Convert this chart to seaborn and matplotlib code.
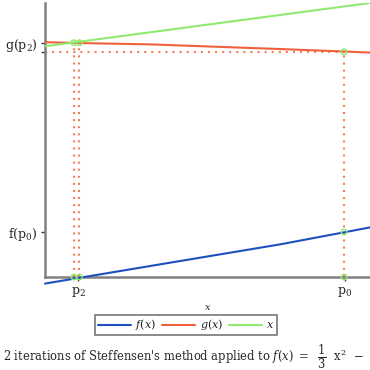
import matplotlib
matplotlib.use("Agg")
import matplotlib.pyplot as plt
import seaborn as sns
import numpy as np

sns.set_style("white")
plt.rcParams['font.family'] = ['DejaVu Serif']
plt.rcParams['mathtext.fontset'] = 'dejavuserif'

# data (arbitrary units)
f_x = [0.0, 3.23, 7.23, 9.2, 10.0]
f_y = [-0.24, 0.40, 1.19, 1.63, 1.81]
g_x = [0.0, 0.95, 3.23, 7.23, 9.2, 10.0]
g_y = [8.57, 8.54, 8.49, 8.32, 8.23, 8.19]
id_x = [0.0, 10.0]
id_y = [8.42, 10.0]

p2a, p2b, p0 = 0.89, 1.06, 9.2
g_p2 = 8.55
g_p0 = 8.22
f_p0 = 1.64

xtick_pos = [1.02, 9.23]
xtick_labels = [r"$\mathrm{p_2}$", r"$\mathrm{p_0}$"]
ytick_pos = [f_p0, g_p0, g_p2]
ytick_labels = [r"$\mathrm{f(p_0)}$", "", r"$\mathrm{g(p_2)}$"]

fig = plt.figure(figsize=(3.7, 3.7), dpi=100)
ax = fig.add_axes([45/370, 1-277/370, 1-45/370, (277-3)/370])

blue = "#1f4fbf"
orange = "#f0603a"
green = "#90ea72"
dot = "#f3805c"

sns.lineplot(x=f_x, y=f_y, color=blue, lw=1.5, label=r"$f(x)$", ax=ax, clip_on=False, zorder=3)
sns.lineplot(x=g_x, y=g_y, color=orange, lw=1.5, label=r"$g(x)$", ax=ax, zorder=3)
sns.lineplot(x=id_x, y=id_y, color=green, lw=1.5, label=r"$x$", ax=ax, zorder=3)

dash = (1, 2.4)
for px in [p2a, p2b]:
    ax.plot([px, px], [0, g_p2], color=dot, lw=1.5, dashes=dash, zorder=2)
ax.plot([p0, p0], [0, g_p0], color=dot, lw=1.5, dashes=dash, zorder=2)
ax.plot([0, p0], [g_p0, g_p0], color=dot, lw=1.5, dashes=dash, zorder=2)

mx = [p2a, p2b, p0, p0, p0, p2a, p2b]
my = [g_p2, g_p2, g_p0, f_p0, 0, 0, 0]
ax.scatter(mx, my, s=16, facecolors='none', edgecolors=green, linewidths=1, zorder=4, clip_on=False)

ax.set_xlim(0, 10)
ax.set_ylim(0, 10)
for s in ['top', 'right']:
    ax.spines[s].set_visible(False)
for s in ['left', 'bottom']:
    ax.spines[s].set_color('#808080')
    ax.spines[s].set_linewidth(1.8)
ax.set_xticks(xtick_pos)
ax.set_xticklabels(xtick_labels, fontsize=9)
ax.set_yticks(ytick_pos)
ax.set_yticklabels(ytick_labels, fontsize=9)
ax.tick_params(axis='both', length=3, width=1, color='#333333', pad=2.5, left=True, bottom=True)
ax.set_xlabel(r"$x$", fontsize=7, labelpad=3)

ax.get_legend().remove()
h, l = ax.get_legend_handles_labels()
leg = fig.legend(h, l, loc='center', bbox_to_anchor=(186/370, 1-325/370), ncol=3,
                 frameon=True, fancybox=False, fontsize=8, handlelength=3.0,
                 borderpad=0.2, columnspacing=0.5, handletextpad=0.4, borderaxespad=0)
leg.get_frame().set_edgecolor('#555555')
leg.get_frame().set_linewidth(1.2)

fig.text(3/370, 1-357/370,
         r"2 iterations of Steffensen's method applied to $f(x)\ =\ \ \dfrac{1}{3}\ \ \mathrm{x}^2\ \,-$",
         fontsize=8.3, ha='left', va='center')

fig.savefig("out.png", dpi=100)
